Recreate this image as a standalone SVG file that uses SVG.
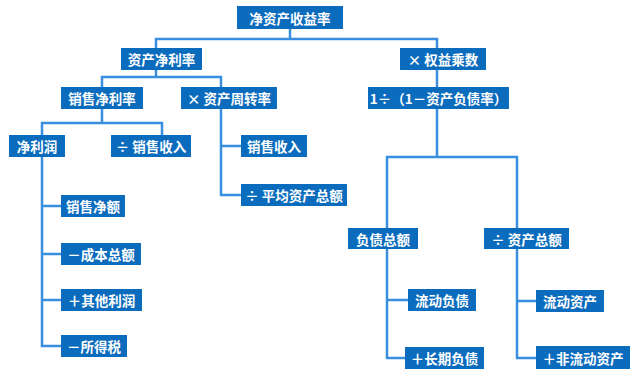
<svg xmlns="http://www.w3.org/2000/svg" width="637" height="384" viewBox="0 0 637 384">
<style>
.b{fill:#0b6bbd;}
.t{fill:#ffffff;font-family:"Noto Sans CJK SC","Liberation Sans",sans-serif;font-size:13.5px;font-weight:bold;text-anchor:middle;dominant-baseline:central;}
.c{fill:none;stroke:#3b8ede;stroke-width:2.5;stroke-linejoin:miter;}
</style>
<rect width="637" height="384" fill="#ffffff"/>
<g id="connectors">
<path class="c" d="M290,29V39M156,48V39H437V48"/>
<path class="c" d="M156,70V77M102,87V77H221V87"/>
<path class="c" d="M437,70V87"/>
<path class="c" d="M437,109V157M387,228V157H517V228"/>
<path class="c" d="M102,109V123M42,135V123H162V135"/>
<path class="c" d="M221,109V195H241M221,146H241"/>
<path class="c" d="M42,157V346H61M42,206H61M42,254H61M42,300H61"/>
<path class="c" d="M387,249V358H405M387,300H408"/>
<path class="c" d="M517,249V358H536M517,301H536"/>
</g>
<g id="n1"><rect class="b" x="237" y="6" width="106" height="23"/><text class="t" x="290" y="17.5">净资产收益率</text></g>
<g id="n2"><rect class="b" x="121" y="48" width="81" height="22"/><text class="t" x="161.5" y="59">资产净利率</text></g>
<g id="n3"><rect class="b" x="400" y="48" width="86" height="22"/><text class="t" x="443" y="59">× 权益乘数</text></g>
<g id="n4"><rect class="b" x="61" y="87" width="82" height="22"/><text class="t" x="102" y="98">销售净利率</text></g>
<g id="n5"><rect class="b" x="181" y="87" width="96" height="22"/><text class="t" x="229" y="98">× 资产周转率</text></g>
<g id="n6"><rect class="b" x="368" y="87" width="141" height="22"/><text class="t" x="438.5" y="98">1÷（1－资产负债率）</text></g>
<g id="n7"><rect class="b" x="9" y="135" width="56" height="22"/><text class="t" x="37" y="146">净利润</text></g>
<g id="n8"><rect class="b" x="111" y="135" width="80" height="22"/><text class="t" x="151" y="146">÷ 销售收入</text></g>
<g id="n9"><rect class="b" x="241" y="135" width="66" height="22"/><text class="t" x="274" y="146">销售收入</text></g>
<g id="n10"><rect class="b" x="241" y="184" width="106" height="22"/><text class="t" x="294" y="195">÷ 平均资产总额</text></g>
<g id="n11"><rect class="b" x="61" y="195" width="64" height="22"/><text class="t" x="93" y="206">销售净额</text></g>
<g id="n12"><rect class="b" x="61" y="243" width="80" height="22"/><text class="t" x="101" y="254">－成本总额</text></g>
<g id="n13"><rect class="b" x="61" y="289" width="81" height="22"/><text class="t" x="101.5" y="300">＋其他利润</text></g>
<g id="n14"><rect class="b" x="61" y="335" width="66" height="22"/><text class="t" x="94" y="346">－所得税</text></g>
<g id="n15"><rect class="b" x="348" y="228" width="70" height="21"/><text class="t" x="383" y="238.5">负债总额</text></g>
<g id="n16"><rect class="b" x="484" y="228" width="85" height="21"/><text class="t" x="526.5" y="238.5">÷ 资产总额</text></g>
<g id="n17"><rect class="b" x="408" y="289" width="68" height="22"/><text class="t" x="442" y="300">流动负债</text></g>
<g id="n18"><rect class="b" x="405" y="347" width="79" height="22"/><text class="t" x="444.5" y="358">＋长期负债</text></g>
<g id="n19"><rect class="b" x="536" y="290" width="68" height="22"/><text class="t" x="570" y="301">流动资产</text></g>
<g id="n20"><rect class="b" x="536" y="346" width="94" height="23"/><text class="t" x="583" y="357.5">＋非流动资产</text></g>
</svg>
